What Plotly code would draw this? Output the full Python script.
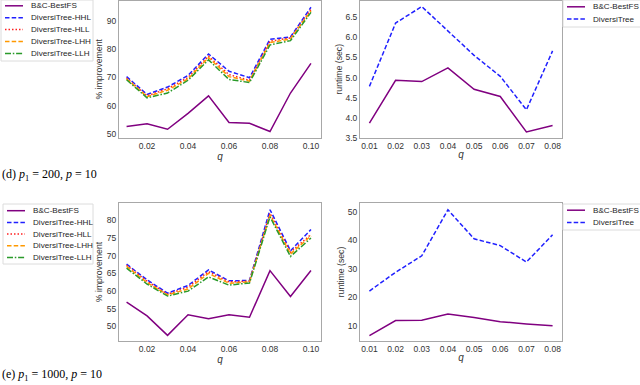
import plotly.graph_objects as go

# q values
q10 = [0.01, 0.02, 0.03, 0.04, 0.05, 0.06, 0.07, 0.08, 0.09, 0.10]
q8 = [0.01, 0.02, 0.03, 0.04, 0.05, 0.06, 0.07, 0.08]

# (d) p1 = 200, p = 10 : % improvement
d_bc = [52.7, 53.6, 51.7, 57.3, 63.5, 54.1, 53.8, 50.9, 64.5, 75.0]
d_hhl = [70.3, 64.0, 66.6, 70.7, 78.3, 72.2, 69.9, 83.5, 84.3, 94.8]
d_hll = [69.8, 63.5, 66.0, 70.0, 77.5, 71.0, 69.0, 82.8, 84.0, 94.0]
d_lhh = [69.5, 63.2, 65.5, 69.5, 77.0, 70.3, 68.7, 82.3, 83.6, 93.5]
d_llh = [69.2, 62.8, 64.5, 69.0, 76.2, 69.3, 68.2, 81.5, 83.0, 93.0]

# (d) runtime
d_rt_bc = [3.87, 4.93, 4.90, 5.24, 4.71, 4.53, 3.65, 3.81]
d_rt_dt = [4.78, 6.35, 6.76, 6.15, 5.55, 5.03, 4.20, 5.66]

# (e) p1 = 1000, p = 10 : % improvement
e_bc = [56.9, 53.0, 47.5, 53.3, 52.2, 53.3, 52.6, 65.8, 58.5, 65.8]
e_hhl = [67.6, 63.2, 59.4, 61.6, 66.0, 62.9, 63.0, 83.0, 71.4, 77.4]
e_hll = [67.3, 62.8, 59.1, 61.1, 65.5, 62.6, 62.8, 82.0, 71.0, 76.0]
e_lhh = [67.0, 62.4, 58.9, 60.6, 65.0, 62.2, 62.6, 81.5, 70.5, 75.6]
e_llh = [66.5, 62.0, 58.6, 60.0, 64.0, 61.7, 62.3, 81.0, 69.8, 75.0]

# (e) runtime
e_rt_bc = [6.5, 11.8, 11.9, 14.1, 12.9, 11.4, 10.6, 10.0]
e_rt_dt = [22.2, 28.8, 34.6, 50.8, 40.6, 38.2, 32.4, 42.0]

names_imp = ["B&C-BestFS", "DiversiTree-HHL", "DiversiTree-HLL", "DiversiTree-LHH", "DiversiTree-LLH"]
names_rt = ["B&C-BestFS", "DiversiTree"]

# matplotlib-ish dash patterns at this scale
styles = [("#800080", "solid"), ("#2020ff", "4.5px,2.2px"), ("#ff2020", "1.5px,2px"),
          ("#ff9900", "4.5px,2.2px"), ("#2a9a2a", "6px,1.8px,1.5px,1.8px")]

W, H = 640, 385
fig = go.Figure()

def add_lines(xs, ys, names, xa, ya):
    for name, y, (c, d) in zip(names, ys, styles):
        fig.add_trace(go.Scatter(x=xs, y=y, mode="lines", name=name, showlegend=False,
                                 line=dict(color=c, dash=d, width=1.5),
                                 xaxis=xa, yaxis=ya))

add_lines(q10, [d_bc, d_hhl, d_hll, d_lhh, d_llh], names_imp, "x", "y")
add_lines(q8, [d_rt_bc, d_rt_dt], names_rt, "x2", "y2")
add_lines(q10, [e_bc, e_hhl, e_hll, e_lhh, e_llh], names_imp, "x3", "y3")
add_lines(q8, [e_rt_bc, e_rt_dt], names_rt, "x4", "y4")

sans = "Liberation Sans, Arial"
tickfont = dict(family=sans, size=8.5, color="#333333")
titlefont = dict(family=sans, size=8.7, color="#333333")

def xax(dom, rng, tv, anchor):
    return dict(domain=dom, range=rng, tickvals=tv, ticktext=["%.2f" % v for v in tv],
                showgrid=False, zeroline=False, showline=True, mirror=True,
                linecolor="#a8a8a8", linewidth=1, ticks="", tickfont=tickfont,
                automargin=False, anchor=anchor,
                title=dict(text="<i>q</i>", font=dict(family=sans, size=10, color="#333333"),
                           standoff=0))

def yax(dom, rng, tv, fmt, title, anchor, gap):
    return dict(domain=dom, range=rng, tickvals=tv, ticktext=[fmt % v for v in tv],
                showgrid=False, zeroline=False, showline=True, mirror=True,
                linecolor="#a8a8a8", linewidth=1, ticks="", tickfont=tickfont,
                automargin=False, anchor=anchor,
                title=dict(text=title, font=titlefont, standoff=gap))

xl = [119 / W, 321 / W]
xr = [360 / W, 562 / W]
yt = [1 - 138 / H, 1 - 0.5 / H]
yb = [1 - 341 / H, 1 - 203 / H]

fig.update_layout(
    width=W, height=H, margin=dict(l=0, r=0, t=0, b=0),
    plot_bgcolor="white", paper_bgcolor="white", showlegend=False,
    xaxis=xax(xl, [0.0063, 0.1049], [0.02, 0.04, 0.06, 0.08, 0.10], "y"),
    yaxis=yax(yt, [48.6, 97.2], [50, 60, 70, 80, 90], "%d", "% improvement", "x", 2),
    xaxis2=xax(xr, [0.0064, 0.0836], q8, "y2"),
    yaxis2=yax(yt, [3.5, 6.91], [3.5, 4.0, 4.5, 5.0, 5.5, 6.0, 6.5], "%.1f", "runtime (sec)", "x2", 1),
    xaxis3=xax(xl, [0.0063, 0.1049], [0.02, 0.04, 0.06, 0.08, 0.10], "y3"),
    yaxis3=yax(yb, [45.9, 84.9], [50, 55, 60, 65, 70, 75, 80], "%d", "% improvement", "x3", 2),
    xaxis4=xax(xr, [0.0064, 0.0836], q8, "y4"),
    yaxis4=yax(yb, [4.6, 53.2], [10, 20, 30, 40, 50], "%d", "runtime (sec)", "x4", 1),
)

# matplotlib-like compact legends (plotly's own legend rows are too tall here)
def legend_box(names, left, top, width, height, first_row, row_gap):
    fig.add_shape(type="rect", xref="paper", yref="paper",
                  x0=left / W, x1=(left + width) / W, y0=1 - (top + height) / H, y1=1 - top / H,
                  line=dict(color="#dcdcdc", width=1), fillcolor="white", layer="above")
    for i, (name, (c, d)) in enumerate(zip(names, styles)):
        yy = 1 - (first_row + i * row_gap) / H
        fig.add_shape(type="line", xref="paper", yref="paper",
                      x0=(left + 4) / W, x1=(left + 22) / W, y0=yy, y1=yy,
                      line=dict(color=c, dash=d, width=1.5), layer="above")
        fig.add_annotation(text=name, x=(left + 28) / W, y=yy, xref="paper", yref="paper",
                           xanchor="left", yanchor="middle", showarrow=False,
                           font=dict(family=sans, size=8.1, color="#262626"))

legend_box(names_imp, 1, 0, 92, 61, 5.8, 11.9)
legend_box(names_rt, 563, 0, 80, 27, 6.8, 12.2)
legend_box(names_imp, 3, 204, 90, 60, 210.7, 11.7)
legend_box(names_rt, 563, 204, 80, 26, 210.2, 12.2)

capfont = dict(family="Liberation Serif, DejaVu Serif", size=12, color="black")
fig.add_annotation(text="(d) <i>p</i><sub>1</sub> = 200, <i>p</i> = 10", x=0, y=1 - 175 / H,
                   xref="paper", yref="paper", xanchor="left", yanchor="middle",
                   showarrow=False, font=capfont)
fig.add_annotation(text="(e) <i>p</i><sub>1</sub> = 1000, <i>p</i> = 10", x=0, y=0,
                   xref="paper", yref="paper", xanchor="left", yanchor="bottom",
                   showarrow=False, font=capfont)

# the page's default 8px body margin would shift the whole figure
fig.write_html("out.html", config={"displayModeBar": False, "displaylogo": False},
               post_script="document.body.style.margin='0px';")
